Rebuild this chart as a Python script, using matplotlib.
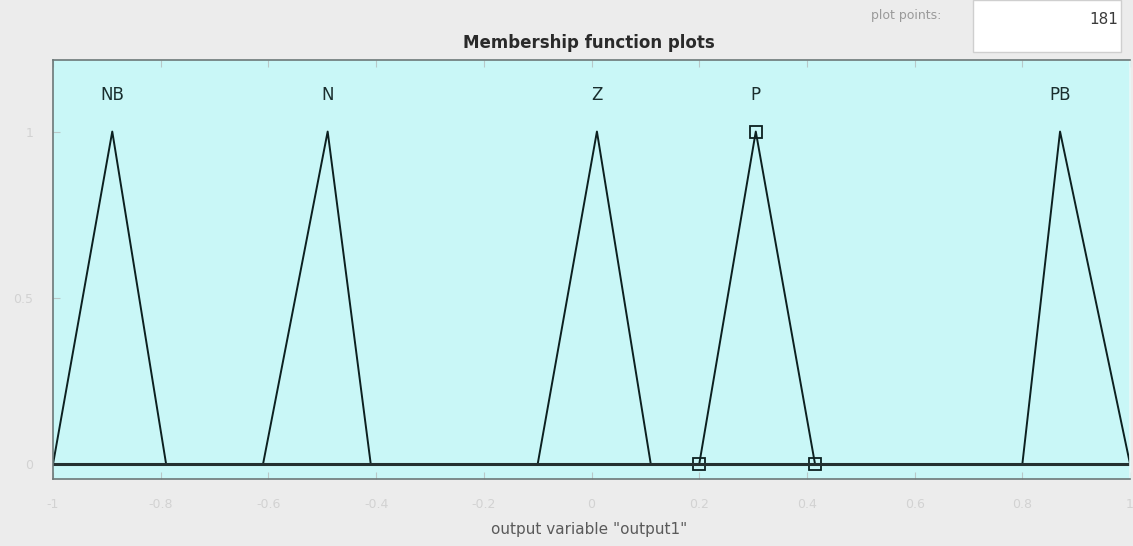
import matplotlib.pyplot as plt

# Output membership functions (triangular: left foot, peak, right foot)
mf_names = ['NB', 'N', 'Z', 'P', 'PB']
mf_params = [
    [-1.00, -0.89, -0.79],
    [-0.61, -0.49, -0.41],
    [-0.10, 0.01, 0.11],
    [0.20, 0.305, 0.415],
    [0.80, 0.87, 1.00],
]
selected = 'P'
plot_points = 181
x_ticks = [-1, -0.8, -0.6, -0.4, -0.2, 0, 0.2, 0.4, 0.6, 0.8, 1]
x_tick_labels = ['-1', '-0.8', '-0.6', '-0.4', '-0.2', '0', '0.2', '0.4', '0.6', '0.8', '1']
y_ticks = [0, 0.5, 1]
y_tick_labels = ['0', '0.5', '1']

fig = plt.figure(figsize=(11.33, 5.46), dpi=100, facecolor='#ececec')
ax = fig.add_axes([0.0468, 0.1227, 0.9506, 0.7673])
ax.set_facecolor('#c9f7f7')

for name, (a, b, c) in zip(mf_names, mf_params):
    ax.plot([a, b, c], [0, 1, 0], color='#0c2020', linewidth=1.4)
    ax.text(b, 1.11, name, ha='center', va='center', fontsize=12, color='#1a2e2e')
    if name == selected:
        ax.plot([a, b, c], [0, 1, 0], linestyle='none', marker='s', markersize=9,
                markerfacecolor='none', markeredgecolor='#0c2020', markeredgewidth=1.3)

# zero baseline across the whole range
ax.axhline(0, color='#243030', linewidth=2.2)

ax.set_xlim(-1, 1)
ax.set_ylim(-0.045, 1.215)
ax.set_xticks(x_ticks)
ax.set_xticklabels(x_tick_labels)
ax.set_yticks(y_ticks)
ax.set_yticklabels(y_tick_labels)
ax.tick_params(direction='in', top=True, right=False, length=5, color='#b8c8c8',
               labelcolor='#d2d2d2', labelsize=9, pad=14)
for side in ['top', 'bottom', 'left', 'right']:
    ax.spines[side].set_color('#6c7878')
    ax.spines[side].set_linewidth(1.2)
ax.spines['right'].set_color('#e8f8f8')

fig.text(0.52, 0.03, 'output variable "output1"', ha='center', va='center',
         fontsize=11, color='#5a5a5a')
fig.text(0.52, 0.922, 'Membership function plots', ha='center', va='center',
         fontsize=12, fontweight='bold', color='#2a2a2a')

# plot points control in the top right corner
fig.text(0.80, 0.972, 'plot points:', ha='center', va='center', fontsize=9, color='#9a9a9a')
box = plt.Rectangle((0.859, 0.905), 0.13, 0.095, transform=fig.transFigure,
                    facecolor='white', edgecolor='#cfcfcf', linewidth=1)
fig.patches.append(box)
fig.text(0.987, 0.965, str(plot_points), ha='right', va='center', fontsize=11, color='#3a3a3a')

fig.savefig('out.png', dpi=100, facecolor=fig.get_facecolor())
